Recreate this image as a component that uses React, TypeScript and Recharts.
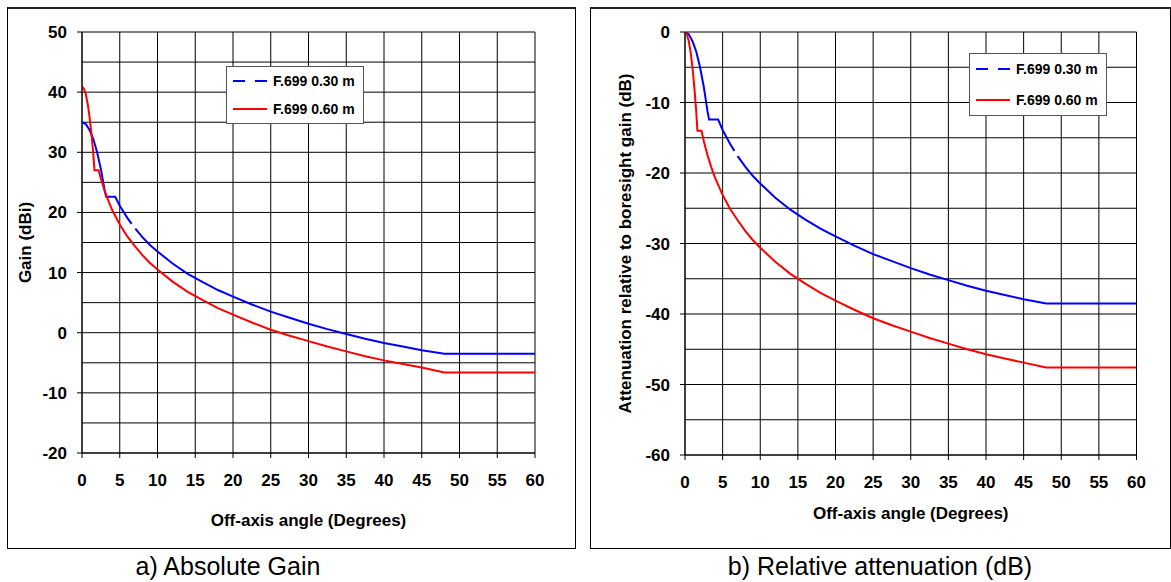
import React from 'react';
import { LineChart, Line, XAxis, YAxis, CartesianGrid, Legend, Label } from 'recharts';

// off-axis angles (degrees) sampled along each curve
const angles030 = [0, 0.5, 1, 1.5, 2, 2.5, 3, 3.2, 4.4, 5, 5.5, 6, 7, 8, 9, 10, 12, 14, 16, 18, 20, 22.5, 25, 27.5, 30, 32.5, 35, 37.5, 40, 42.5, 45, 48, 50, 55, 60];
const gain030 = [35.0, 34.7, 33.7, 32.2, 30.0, 27.2, 23.7, 22.6, 22.6, 21.1, 20.1, 19.1, 17.4, 15.9, 14.6, 13.5, 11.5, 9.8, 8.4, 7.1, 6.0, 4.7, 3.5, 2.5, 1.5, 0.6, -0.2, -1.0, -1.7, -2.3, -2.9, -3.5, -3.5, -3.5, -3.5];
const atten030 = [0, -0.3, -1.3, -2.8, -5.0, -7.8, -11.3, -12.4, -12.4, -13.9, -14.9, -15.9, -17.6, -19.1, -20.4, -21.5, -23.5, -25.2, -26.6, -27.9, -29.0, -30.3, -31.5, -32.5, -33.5, -34.4, -35.2, -36.0, -36.7, -37.3, -37.9, -38.5, -38.5, -38.5, -38.5];

const angles060 = [0, 0.25, 0.5, 0.75, 1, 1.25, 1.5, 1.65, 2.2, 2.5, 3, 3.5, 4, 5, 6, 7, 8, 9, 10, 12, 14, 16, 18, 20, 22.5, 25, 27.5, 30, 32.5, 35, 37.5, 40, 42.5, 45, 48, 50, 55, 60];
const gain060 = [40.9, 40.6, 39.7, 38.1, 35.9, 33.1, 29.7, 27.0, 27.0, 25.6, 23.6, 21.9, 20.4, 18.0, 16.0, 14.4, 12.9, 11.6, 10.5, 8.5, 6.8, 5.4, 4.1, 3.0, 1.7, 0.5, -0.5, -1.4, -2.3, -3.1, -3.9, -4.6, -5.2, -5.8, -6.6, -6.6, -6.6, -6.6];
const atten060 = [0, -0.3, -1.3, -2.9, -5.1, -8.0, -11.4, -14.0, -14.0, -15.5, -17.5, -19.2, -20.7, -23.1, -25.1, -26.7, -28.2, -29.5, -30.6, -32.6, -34.3, -35.7, -37.0, -38.1, -39.4, -40.6, -41.6, -42.5, -43.4, -44.2, -45.0, -45.7, -46.3, -46.9, -47.6, -47.6, -47.6, -47.6];

const seriesNames = ['F.699 0.30 m', 'F.699 0.60 m'];

const xTicks = [0, 5, 10, 15, 20, 25, 30, 35, 40, 45, 50, 55, 60];
const gainTicks = [-20, -10, 0, 10, 20, 30, 40, 50];
const gainGrid = [-20, -15, -10, -5, 0, 5, 10, 15, 20, 25, 30, 35, 40, 45, 50];
const attenTicks = [-60, -50, -40, -30, -20, -10, 0];
const attenGrid = [-60, -55, -50, -45, -40, -35, -30, -25, -20, -15, -10, -5, 0];

const FONT = '"Liberation Sans", Arial, Helvetica, sans-serif';
const BLUE = '#0000ff';
const RED = '#ff0000';

const toRows = (xs: number[], ys: number[]) => xs.map((x, i) => ({ angle: x, value: ys[i] }));

const titleStyle = { fontFamily: FONT, fontSize: 17, fontWeight: 700, fill: '#000' };

interface PanelProps {
  left: number;
  width: number;
  rows030: { angle: number; value: number }[];
  rows060: { angle: number; value: number }[];
  yDomain: [number, number];
  yTicks: number[];
  yGrid: number[];
  yTitle: string;
  yTitleX: number;
  yAxisWidth: number;
  marginRight: number;
  marginBottom: number;
  xTitleY: number;
  blueDash: string;
  legendBox: { left: number; top: number; width: number; height: number };
  legendRow: number;
}

const Panel: React.FC<PanelProps> = (p) => {
  const height = 548;
  const plotTop = 32;
  const plotBottom = height - p.marginBottom - 80;
  const plotMidY = (plotTop + plotBottom) / 2;
  const plotMidX = (p.yAxisWidth + (p.width - p.marginRight)) / 2;

  const renderLegend = (props: any) => {
    const payload = props.payload || [];
    return (
      <div
        style={{
          boxSizing: 'border-box',
          width: p.legendBox.width,
          height: p.legendBox.height,
          border: '1px solid #555',
          background: '#fff',
          display: 'flex',
          flexDirection: 'column',
          justifyContent: 'center',
          paddingLeft: 6,
        }}
      >
        {payload.map((entry: any, i: number) => (
          <div key={i} style={{ height: p.legendRow, display: 'flex', alignItems: 'center' }}>
            <svg width={34} height={6} style={{ marginRight: 6 }}>
              <line
                x1={0}
                y1={3}
                x2={34}
                y2={3}
                stroke={entry.color}
                strokeWidth={2}
                strokeDasharray={i === 0 ? '12 10' : undefined}
              />
            </svg>
            <span style={{ fontFamily: FONT, fontSize: 14, fontWeight: 700, color: '#000', whiteSpace: 'nowrap' }}>
              {entry.value}
            </span>
          </div>
        ))}
      </div>
    );
  };

  return (
    <div style={{ position: 'absolute', left: p.left, top: 0 }}>
      <LineChart
        width={p.width}
        height={height}
        margin={{ top: plotTop, right: p.marginRight, left: 0, bottom: p.marginBottom }}
      >
        <CartesianGrid
          stroke="#000"
          strokeWidth={1}
          horizontalValues={p.yGrid}
          verticalValues={xTicks}
        />
        <XAxis
          dataKey="angle"
          type="number"
          domain={[0, 60]}
          ticks={xTicks}
          allowDataOverflow
          height={80}
          axisLine={{ stroke: '#000' }}
          tickLine={{ stroke: '#000' }}
          tickSize={5}
          tickMargin={16}
          tick={{ fill: '#000', fontSize: 17, fontWeight: 700, fontFamily: FONT }}
          interval={0}
        >
          <Label
            content={() => (
              <text x={plotMidX} y={p.xTitleY} textAnchor="middle" dominantBaseline="central" style={titleStyle}>
                Off-axis angle (Degrees)
              </text>
            )}
          />
        </XAxis>
        <YAxis
          type="number"
          domain={p.yDomain}
          ticks={p.yTicks}
          allowDataOverflow
          width={p.yAxisWidth}
          axisLine={{ stroke: '#000' }}
          tickLine={{ stroke: '#000' }}
          tickSize={5}
          tickMargin={10}
          tick={{ fill: '#000', fontSize: 17, fontWeight: 700, fontFamily: FONT }}
          interval={0}
        >
          <Label
            content={() => (
              <text
                x={p.yTitleX}
                y={plotMidY}
                transform={`rotate(-90 ${p.yTitleX} ${plotMidY})`}
                textAnchor="middle"
                dominantBaseline="central"
                style={titleStyle}
              >
                {p.yTitle}
              </text>
            )}
          />
        </YAxis>
        <Legend
          layout="vertical"
          align="center"
          verticalAlign="middle"
          content={renderLegend}
          wrapperStyle={{
            left: p.legendBox.left,
            top: p.legendBox.top,
            width: p.legendBox.width,
            height: p.legendBox.height,
          }}
        />
        <Line
          data={p.rows030}
          dataKey="value"
          name={seriesNames[0]}
          type="linear"
          stroke={BLUE}
          strokeWidth={2}
          strokeDasharray={p.blueDash}
          dot={false}
          activeDot={false}
          isAnimationActive={false}
        />
        <Line
          data={p.rows060}
          dataKey="value"
          name={seriesNames[1]}
          type="linear"
          stroke={RED}
          strokeWidth={2}
          dot={false}
          activeDot={false}
          isAnimationActive={false}
        />
      </LineChart>
    </div>
  );
};

const captionStyle: React.CSSProperties = {
  position: 'absolute',
  top: 552,
  fontFamily: FONT,
  fontSize: 25,
  color: '#000',
  textAlign: 'center',
  whiteSpace: 'nowrap',
};

const boxStyle: React.CSSProperties = {
  position: 'absolute',
  top: 7,
  height: 542,
  boxSizing: 'border-box',
  border: '1px solid #000',
  borderTop: '2px solid #222',
};

export default function App() {
  return (
    <div
      style={{
        position: 'absolute',
        left: 0,
        top: 0,
        width: 1171,
        height: 582,
        overflow: 'hidden',
        background: '#fff',
      }}
    >
      <div style={{ ...boxStyle, left: 7, width: 569 }} />
      <div style={{ ...boxStyle, left: 590, width: 581 }} />

      <Panel
        left={0}
        width={575}
        rows030={toRows(angles030, gain030)}
        rows060={toRows(angles060, gain060)}
        yDomain={[-20, 50]}
        yTicks={gainTicks}
        yGrid={gainGrid}
        yTitle="Gain (dBi)"
        yTitleX={25}
        yAxisWidth={82}
        marginRight={40}
        marginBottom={15}
        xTitleY={520}
        blueDash="121 6 3000"
        legendBox={{ left: 226, top: 66, width: 138, height: 58 }}
        legendRow={28}
      />
      <Panel
        left={590}
        width={582}
        rows030={toRows(angles030, atten030)}
        rows060={toRows(angles060, atten060)}
        yDomain={[-60, 0]}
        yTicks={attenTicks}
        yGrid={attenGrid}
        yTitle="Attenuation relative to boresight gain (dB)"
        yTitleX={35}
        yAxisWidth={95}
        marginRight={35.5}
        marginBottom={13}
        xTitleY={513}
        blueDash="137 6 3000"
        legendBox={{ left: 379, top: 53, width: 138, height: 63 }}
        legendRow={31}
      />

      <div style={{ ...captionStyle, left: 0, width: 456 }}>a) Absolute Gain</div>
      <div style={{ ...captionStyle, left: 590, width: 580 }}>b) Relative attenuation (dB)</div>
    </div>
  );
}
